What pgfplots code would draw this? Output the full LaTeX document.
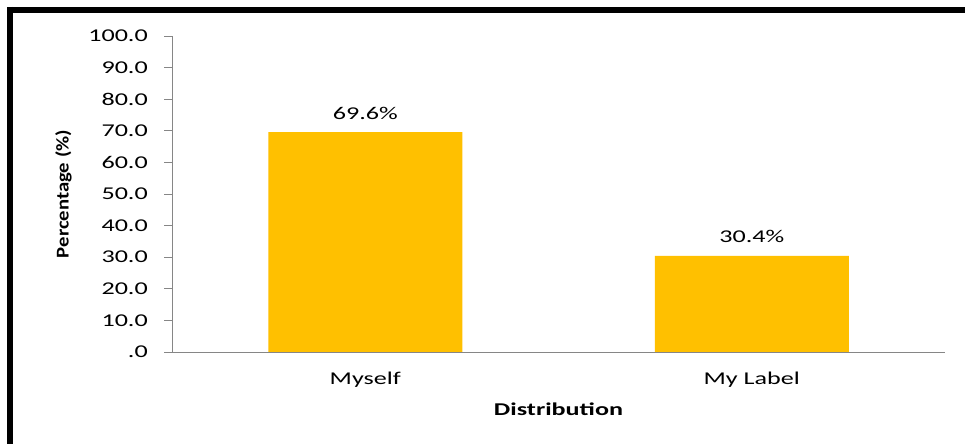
\documentclass[border=0pt]{standalone}
\usepackage{fontspec}
\setmainfont{Carlito}[FakeStretch=1.45]
\newfontfamily\ylabfont{Carlito}[FakeStretch=1.15]
\usepackage{pgfplots}
\pgfplotsset{compat=1.18}
\definecolor{bargold}{HTML}{FFC000}
\definecolor{axgray}{HTML}{868686}
\begin{document}
\begin{tikzpicture}[x=1pt,y=1pt]
\useasboundingbox (0,0) rectangle (965,444);
\fill[white] (0,0) rectangle (965,444);
\draw[line width=6pt] (7,434) -- (965,434);
\draw[line width=6pt] (10,437) -- (10,0);
\begin{axis}[
  at={(172pt,92pt)}, anchor=south west,
  scale only axis, width=773pt, height=316pt,
  xmin=-0.5, xmax=1.5, ymin=0, ymax=100,
  axis x line*=bottom, axis y line*=left,
  axis line style={draw=axgray, line width=0.8pt},
  ybar, bar width=194pt,
  tick align=outside, major tick length=8pt,
  ytick={0,10,...,100},
  yticklabels={.0,10.0,20.0,30.0,40.0,50.0,60.0,70.0,80.0,90.0,100.0},
  ytick style={draw=axgray, line width=0.8pt},
  xtick={0,1}, xticklabels={Myself,My Label},
  xtick style={draw=none},
  extra x ticks={-0.5,0.5,1.5}, extra x tick labels={},
  extra x tick style={tick style={draw=axgray, line width=0.8pt}},
  every tick label/.append style={font=\fontsize{18}{21}\selectfont, text=black},
  yticklabel style={anchor=east, inner sep=0pt, xshift=-16pt},
  xticklabel style={anchor=base, inner sep=0pt, yshift=-24pt},
  xlabel={\bfseries Distribution},
  xlabel style={at={(axis description cs:0.5,0)}, anchor=base, yshift=-63pt, inner sep=0pt, font=\fontsize{18}{21}\selectfont},
  ylabel={\ylabfont\bfseries Percentage (\%)},
  ylabel style={at={(axis description cs:-0.1294,0.5)}, anchor=south, inner sep=0pt, font=\fontsize{18}{21}\selectfont},
  clip=false,
]
\addplot[fill=bargold, draw=none,
  nodes near coords, point meta=explicit symbolic,
  nodes near coords style={anchor=base, inner sep=0pt, yshift=13pt, font=\fontsize{18}{21}\selectfont, text=black}]
  coordinates {(0,69.6)[69.6\%] (1,30.4)[30.4\%]};
\end{axis}
\end{tikzpicture}
\end{document}
